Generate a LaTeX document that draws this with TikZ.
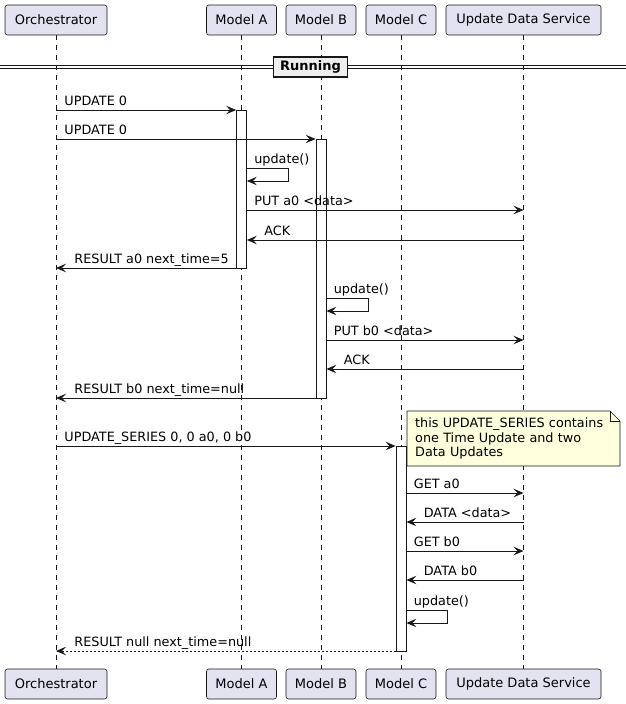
\documentclass[tikz,border=0pt]{standalone}
\usepackage{fontspec}
\setmainfont{DejaVu Sans}
\usetikzlibrary{arrows.meta,positioning}
\definecolor{partfill}{HTML}{E2E2F0}
\definecolor{linecol}{HTML}{181818}
\definecolor{notefill}{HTML}{FEFFDD}
\definecolor{divfill}{HTML}{EEEEEE}
\tikzset{part/.style={draw=linecol,fill=partfill,rounded corners=2.5pt,line width=0.6pt,
        minimum height=30pt,minimum width=#1,inner sep=0pt,font=\fontsize{13}{15}\selectfont},
        life/.style={draw=linecol,line width=0.5pt,dash pattern=on 5pt off 5pt},
        actbar/.style={draw=linecol,fill=white,line width=0.8pt,minimum width=10pt,
        minimum height=#1,inner sep=0pt,anchor=north},
        msg/.style={draw=linecol,line width=0.9pt,-{Stealth[length=10pt,width=8.5pt,inset=4pt]}},
        retmsg/.style={msg,dash pattern=on 2pt off 2pt},
        lbl/.style={anchor=base west,inner sep=0pt,font=\fontsize{12.8}{15}\selectfont,yshift=4.5pt},
        divbox/.style={draw=linecol,fill=divfill,line width=1.4pt,minimum height=20pt,
        inner xsep=6.5pt,font=\bfseries\fontsize{13}{15}\selectfont},
        notetext/.style={anchor=north west,text width=197pt,align=left,inner xsep=8pt,
        inner ysep=0pt,minimum height=55pt,font=\fontsize{12.8}{14.5}\selectfont}
        }

\begin{document}
\begin{tikzpicture}[x=1pt,y=-1pt]
	\useasboundingbox (0,0) rectangle (626,704);

	% participants, top and bottom
	\node[part=102pt] (orchT) at (56,20) {Orchestrator};
	\node[part=70pt] (modaT) at (241.5,20) {Model A};
	\node[part=70pt] (modbT) at (321,20) {Model B};
	\node[part=70pt] (modcT) at (401,20) {Model C};
	\node[part=155pt] (udsT) at (523.5,20) {Update Data Service};
	\node[part=102pt] (orchB) at (56,684) {Orchestrator};
	\node[part=70pt] (modaB) at (241.5,684) {Model A};
	\node[part=70pt] (modbB) at (321,684) {Model B};
	\node[part=70pt] (modcB) at (401,684) {Model C};
	\node[part=155pt] (udsB) at (523.5,684) {Update Data Service};

	\foreach \p in {orch,moda,modb,modc,uds}
		\draw[life] (\p T.south) -- (\p B.north);

	% divider
	\draw[linecol,line width=0.8pt] (0,65.5) -- (626,65.5);
	\draw[linecol,line width=0.8pt] (0,68.5) -- (626,68.5);
	\node[divbox] (run) at (310.5,67) {Running};

	% rows of the messages
	\foreach \n/\y in {y1/110,y2/139,y3/168,y4/210,y5/240,y6/268,y7/298,y8/340,y9/369,
		y10/398,y11/446,y12/493,y13/522,y14/551,y15/580,y16/610,y17/651}
		\coordinate (\n) at (0,\y);

	% activations
	\node[actbar=158pt] (actA) at (modaT |- y1) {};
	\node[actbar=259pt] (actB) at (modbT |- y2) {};
	\node[actbar=205pt] (actC) at (modcT |- y11) {};

	% note
	\coordinate (noteNW) at (407,411);
	\coordinate (noteSE) at (620,466);
	\draw[draw=linecol,fill=notefill,line width=0.6pt] (noteNW) -- (610,411) -- (620,421)
		-- (noteSE) -- (noteNW |- noteSE) -- cycle;
	\draw[draw=linecol,line width=0.6pt] (610,411) -- (610,421) -- (620,421);
	\node[notetext] (note) at (noteNW) {this UPDATE\_SERIES contains\\one Time Update and two\\Data Updates};

	% messages
	\draw[msg] (orchT |- y1) -- node[lbl,pos=0,xshift=8pt] (l1) {UPDATE 0} (actA.west |- y1);
	\draw[msg] (orchT |- y2) -- node[lbl,pos=0,xshift=8pt] (l2) {UPDATE 0} (actB.west |- y2);
	\draw[msg] (actA.east |- y3) -- node[lbl,pos=0,xshift=7pt] (l3) {update()} ++(42,0) -- ++(0,13) -- ++(-42,0);
	\draw[msg] (actA.east |- y4) -- node[lbl,pos=0,xshift=7pt] (l4) {PUT a0 <data>} (udsT |- y4);
	\draw[msg] (udsT |- y5) -- node[lbl,pos=1,xshift=17pt] (l5) {ACK} (actA.east |- y5);
	\draw[msg] (actA.west |- y6) -- node[lbl,pos=1,xshift=18pt] (l6) {RESULT a0 next\_time=5} (orchT |- y6);
	\draw[msg] (actB.east |- y7) -- node[lbl,pos=0,xshift=7pt] (l7) {update()} ++(42,0) -- ++(0,13) -- ++(-42,0);
	\draw[msg] (actB.east |- y8) -- node[lbl,pos=0,xshift=7pt] (l8) {PUT b0 <data>} (udsT |- y8);
	\draw[msg] (udsT |- y9) -- node[lbl,pos=1,xshift=17pt] (l9) {ACK} (actB.east |- y9);
	\draw[msg] (actB.west |- y10) -- node[lbl,pos=1,xshift=18pt] (l10) {RESULT b0 next\_time=null} (orchT |- y10);
	\draw[msg] (orchT |- y11) -- node[lbl,pos=0,xshift=8pt] (l11) {UPDATE\_SERIES 0, 0 a0, 0 b0} (actC.west |- y11);
	\draw[msg] (actC.east |- y12) -- node[lbl,pos=0,xshift=7pt] (l12) {GET a0} (udsT |- y12);
	\draw[msg] (udsT |- y13) -- node[lbl,pos=1,xshift=17pt] (l13) {DATA <data>} (actC.east |- y13);
	\draw[msg] (actC.east |- y14) -- node[lbl,pos=0,xshift=7pt] (l14) {GET b0} (udsT |- y14);
	\draw[msg] (udsT |- y15) -- node[lbl,pos=1,xshift=17pt] (l15) {DATA b0} (actC.east |- y15);
	\draw[msg] (actC.east |- y16) -- node[lbl,pos=0,xshift=7pt] (l16) {update()} ++(41,0) -- ++(0,13) -- ++(-41,0);
	\draw[retmsg] (actC.west |- y17) -- node[lbl,pos=1,xshift=18pt] (l17) {RESULT null next\_time=null} (orchT |- y17);
\end{tikzpicture}
\end{document}
